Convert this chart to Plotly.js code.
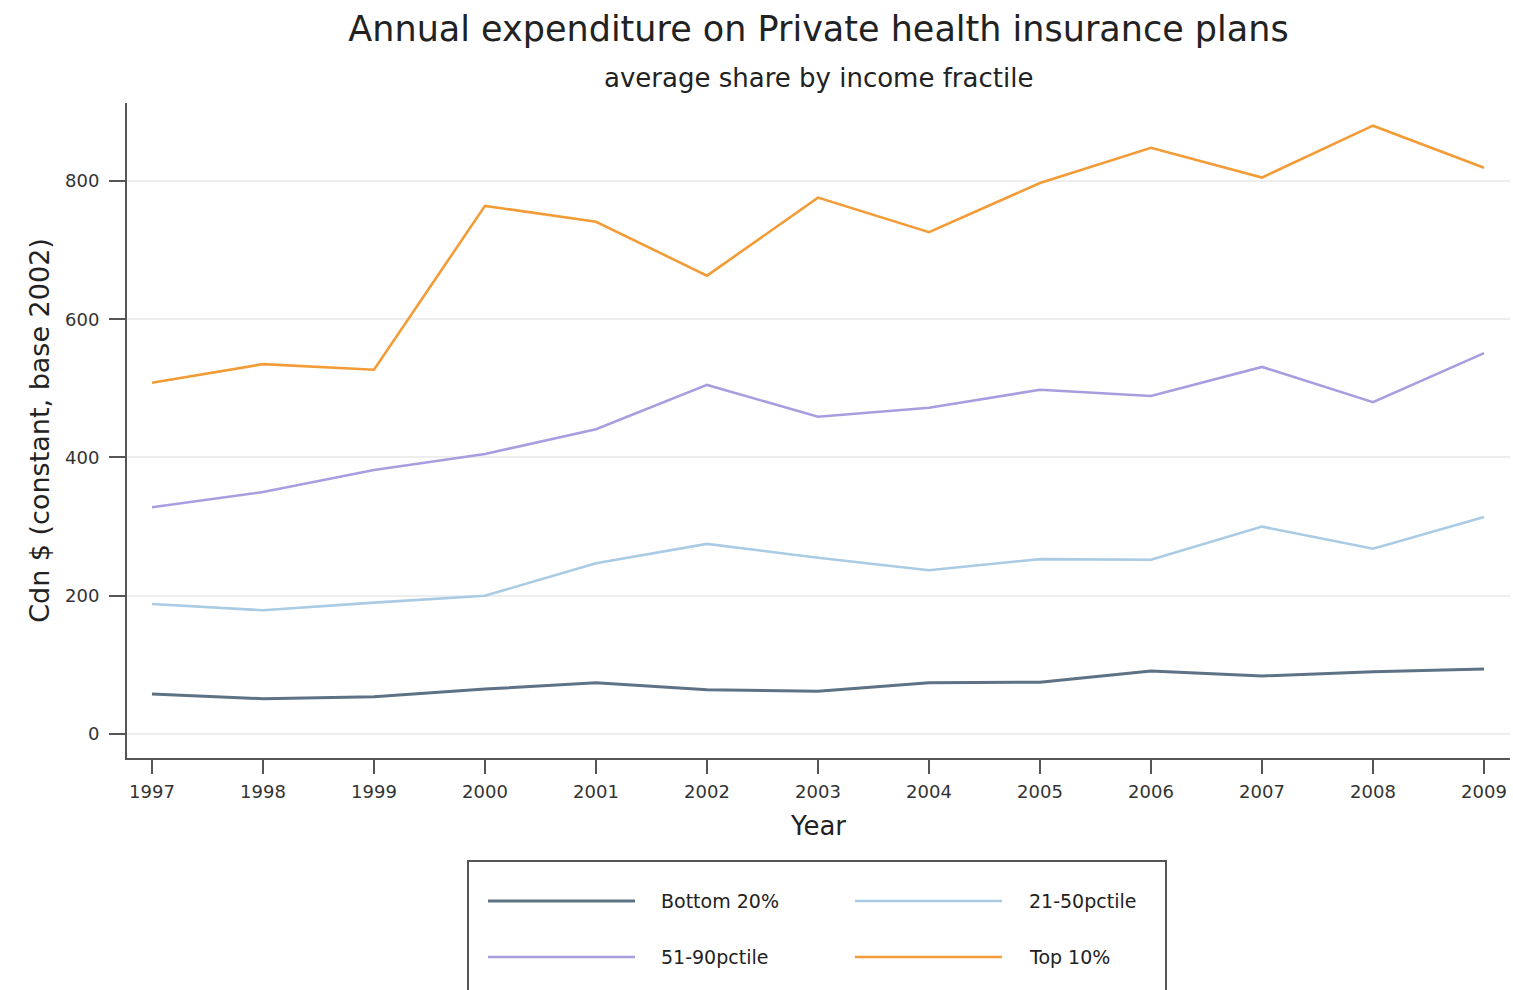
<!DOCTYPE html>
<html>
<head>
<meta charset="utf-8">
<script src="https://cdn.plot.ly/plotly-3.0.1.min.js"></script>
<style>html,body{margin:0;padding:0;background:#fff;}#chart{width:1513px;height:990px;}</style>
</head>
<body>
<div id="chart"></div>
<script>
const years = [1997,1998,1999,2000,2001,2002,2003,2004,2005,2006,2007,2008,2009];
const bottom20 = [58,51,54,65,74,64,62,74,75,91,84,90,94];
const p21_50 = [188,179,190,200,247,275,255,237,253,252,300,268,314];
const p51_90 = [328,350,382,405,441,505,459,472,498,489,531,480,551];
const top10 = [508,535,527,764,741,663,776,726,797,848,805,880,819];
const seriesNames = ['Bottom 20%','21-50pctile','51-90pctile','Top 10%'];
const seriesColors = ['#5d7284','#a9cbe3','#a99de0','#f29c38'];
const yTicks = [0,200,400,600,800];

const seriesData = [bottom20, p21_50, p51_90, top10];
const traces = seriesData.map((v,i)=>({
  x: years, y: v, type:'scatter', mode:'lines', name: seriesNames[i],
  line:{color: seriesColors[i], width: i===0?3:2.6}, showlegend:false
}));

// manual legend (paper coords relative to plot area)
const L = 127, W = 1383, T = 103, H = 655;
const px = x => (x - L)/W;
const py = y => (T + H - y)/H;
const shapes = [{
  type:'rect', xref:'paper', yref:'paper',
  x0: px(468), x1: px(1166), y0: py(1000), y1: py(861),
  line:{color:'#555', width:2}, fillcolor:'rgba(0,0,0,0)'
}];
const annotations = [];
const legPos = [[488,635,659,901],[855,1002,1027,901],[488,635,659,957],[855,1002,1027,957]];
seriesNames.forEach((n,i)=>{
  const [a,b,t,y] = legPos[i];
  shapes.push({type:'line', xref:'paper', yref:'paper', x0:px(a), x1:px(b), y0:py(y), y1:py(y),
    line:{color:seriesColors[i], width: i===0?3:2.6}});
  annotations.push({xref:'paper', yref:'paper', x:px(t), y:py(y), xanchor:'left', yanchor:'middle',
    text:n, showarrow:false, font:{size:19, color:'#222'}});
});
annotations.push({xref:'paper', yref:'paper', x:0.5, y:py(78), xanchor:'center', yanchor:'middle',
  text:'average share by income fractile', showarrow:false, font:{size:26, color:'#222'}});

const layout = {
  width:1513, height:990,
  margin:{l:127, r:3, t:103, b:232},
  paper_bgcolor:'#fff', plot_bgcolor:'#fff',
  font:{family:'"DejaVu Sans", "Liberation Sans", Arial, sans-serif', color:'#222'},
  title:{text:'Annual expenditure on Private health insurance plans', x:0.5, xref:'paper', xanchor:'center',
    y:1-29/990, yref:'container', yanchor:'middle', font:{size:35, color:'#222'}},
  xaxis:{range:[1996.775, 2009.234], tickvals: years, ticktext: years.map(String),
    ticks:'outside', ticklen:14, tickwidth:2, tickcolor:'#555', showline:true, linecolor:'#555', linewidth:2,
    showgrid:false, zeroline:false, tickfont:{size:18, color:'#333'}, ticklabelstandoff:2,
    title:{text:'Year', font:{size:26, color:'#222'}, standoff:16}},
  yaxis:{range:[-34.7, 912.8], tickvals: yTicks, ticktext: yTicks.map(String),
    ticks:'outside', ticklen:16, tickwidth:2, tickcolor:'#555', showline:true, linecolor:'#555', linewidth:2,
    showgrid:true, gridcolor:'#eeeeee', gridwidth:2, zeroline:false, tickfont:{size:18, color:'#333'},
    ticklabelstandoff:6,
    title:{text:'Cdn $ (constant, base 2002)', font:{size:27, color:'#222'}, standoff:8}},
  shapes: shapes, annotations: annotations, showlegend:false
};
Plotly.newPlot('chart', traces, layout, {displayModeBar:false, staticPlot:true});
</script>
</body>
</html>
